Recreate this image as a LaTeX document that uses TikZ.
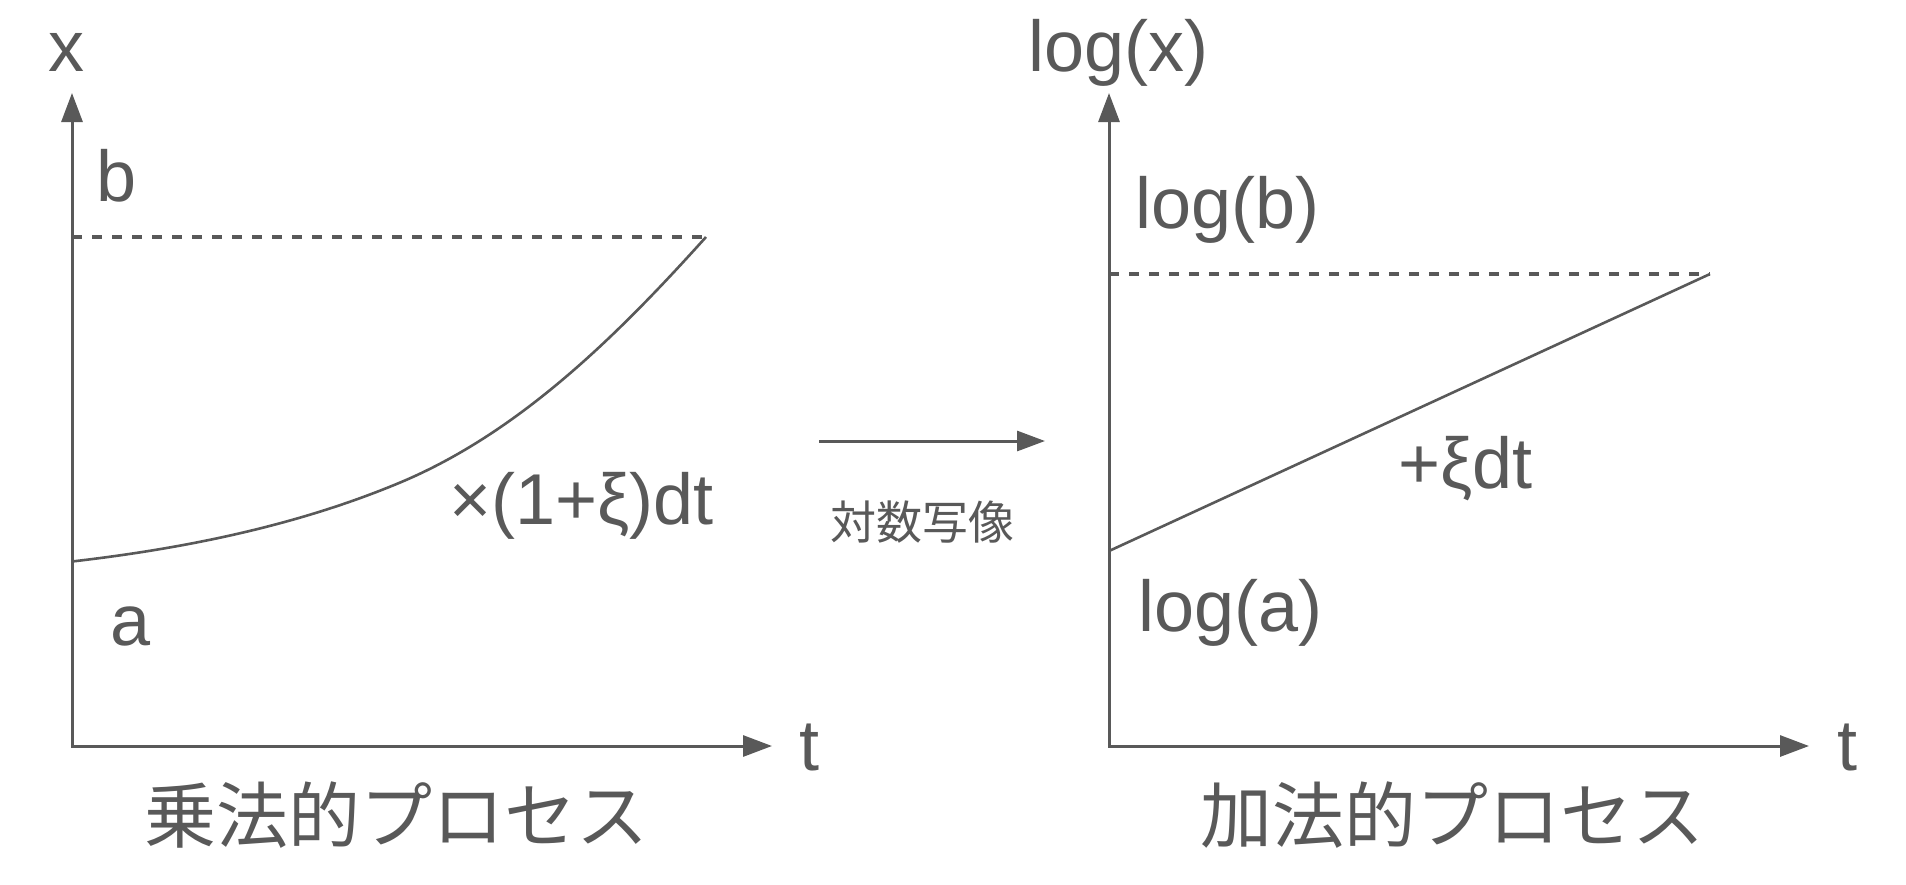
\documentclass[tikz,border=0pt]{standalone}
\usepackage{fontspec}
\setmainfont{Liberation Sans}
\newfontfamily\jpfont{Noto Sans CJK JP}
\usepackage{xcolor}
\usepackage{tikz}
\usetikzlibrary{arrows.meta}
\definecolor{ink_gray}{HTML}{595959}
\tikzset{ axis_line/.style = {line width=1.5pt, line join=miter, {Triangle[length=14.5pt,width=10.5pt]}-{Triangle[length=14.5pt,width=10.5pt]}} }
\tikzset{ map_arrow/.style = {line width=1.5pt, -{Triangle[length=14pt,width=10pt]}} }
\tikzset{ bound_line/.style = {line width=1.7pt, dash pattern=on 5pt off 5pt} }
\tikzset{ path_line/.style = {line width=1.3pt} }
\tikzset{ val_label/.style = {inner sep=0pt, anchor=base west, font=\fontsize{36pt}{40pt}\selectfont} }
\tikzset{ proc_title/.style = {inner sep=0pt, font=\jpfont\fontsize{36pt}{40pt}\selectfont} }

\begin{document}
\begin{tikzpicture}[x=0.5pt, y=-0.5pt, color=ink_gray, text=ink_gray]
    \useasboundingbox (0,0) rectangle (1906,884);

    \coordinate (O1) at (72,746);
    \coordinate (Y1) at (72,93);
    \coordinate (T1) at (772,746);
    \coordinate (B1) at (72,237);
    \coordinate (B1end) at (706,237);
    \coordinate (A1) at (72,561.5);
    \coordinate (G1) at (399,483);
    \draw[axis_line] (Y1) -- (O1) -- (T1);
    \draw[bound_line] (B1) -- (B1end);
    \draw[path_line] (A1) .. controls (183,548.7) and (295.6,526.1) .. (G1)
        .. controls (520,432.6) and (618.4,334.3) .. (B1end);
    \node[val_label] (x_lab) at (48,71) {x};
    \node[val_label] (b_lab) at (96,201) {b};
    \node[val_label] (a_lab) at (110,645) {a};
    \node[val_label] (mul_lab) at (449,524) {×(1+ξ)dt};
    \node[val_label] (t1_lab) at (799,770) {t};
    \node[proc_title] (mul_title) at (396,815) {乗法的プロセス};

    \coordinate (M1) at (819,441);
    \coordinate (M2) at (1045,441);
    \draw[map_arrow] (M1) -- (M2);
    \node[proc_title, font=\jpfont\fontsize{23pt}{26pt}\selectfont] (map_lab) at (922,522) {対数写像};

    \coordinate (O2) at (1109,746);
    \coordinate (Y2) at (1109,93);
    \coordinate (T2) at (1809,746);
    \coordinate (B2) at (1109,274);
    \coordinate (B2end) at (1710,274);
    \coordinate (A2) at (1109,551);
    \draw[axis_line] (Y2) -- (O2) -- (T2);
    \draw[bound_line] (B2) -- (B2end);
    \draw[path_line] (A2) -- (B2end);
    \node[val_label] (logx_lab) at (1028,71) {log(x)};
    \node[val_label] (logb_lab) at (1135,228) {log(b)};
    \node[val_label] (loga_lab) at (1138,631) {log(a)};
    \node[val_label] (add_lab) at (1398,488) {+ξdt};
    \node[val_label] (t2_lab) at (1837,770) {t};
    \node[proc_title] (add_title) at (1452,815) {加法的プロセス};
\end{tikzpicture}
\end{document}
